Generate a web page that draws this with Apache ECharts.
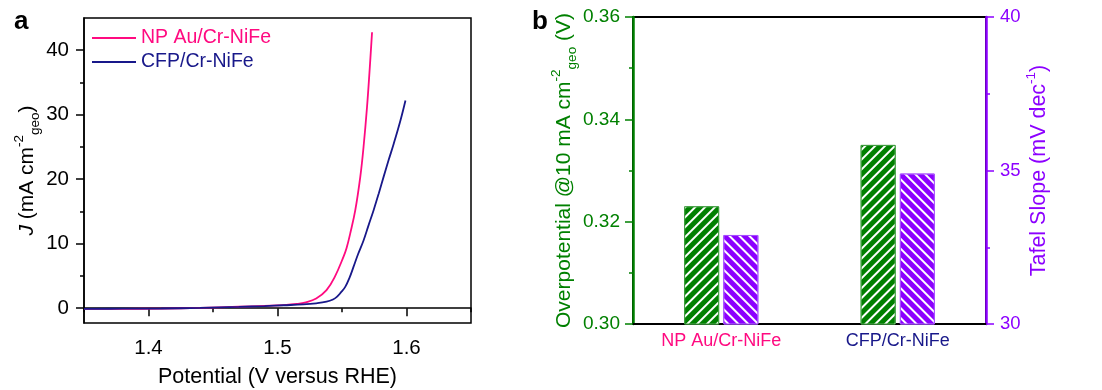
<!DOCTYPE html>
<html>
<head>
<meta charset="utf-8">
<style>
  html, body { margin: 0; padding: 0; background: #fff; }
  #chart { width: 1102px; height: 390px; }
</style>
<script src="https://cdn.jsdelivr.net/npm/echarts@6/dist/echarts.min.js"></script>
</head>
<body>
<div id="chart"></div>
<script>
// Panel a: polarization curves (potential in V vs RHE, current density in mA cm^-2)
const potentialAu = [1.35, 1.38, 1.41, 1.44, 1.47, 1.49, 1.505, 1.515, 1.522, 1.530, 1.538, 1.5445, 1.5512, 1.5535, 1.5564, 1.5603, 1.5642, 1.5667, 1.5694, 1.5714, 1.5733];
const currentAu   = [-0.12, -0.1, -0.06, 0.05, 0.22, 0.36, 0.48, 0.65, 0.9, 1.5, 2.8, 4.9, 8.0, 9.3, 11.6, 15.2, 20.4, 25.0, 31.2, 36.9, 42.8];
const potentialCfp = [1.35, 1.38, 1.41, 1.44, 1.47, 1.49, 1.505, 1.52, 1.53, 1.538, 1.543, 1.546, 1.549, 1.5525, 1.556, 1.5589, 1.5625, 1.5667, 1.5705, 1.5745, 1.5785, 1.5823, 1.5862, 1.5901, 1.5953, 1.5992];
const currentCfp   = [-0.1, -0.08, -0.05, 0.05, 0.2, 0.33, 0.45, 0.58, 0.75, 1.0, 1.35, 1.75, 2.4, 3.3, 4.8, 6.4, 8.4, 10.5, 12.8, 15.2, 17.8, 20.4, 23.0, 25.5, 29.1, 32.2];

// Panel b: overpotential at 10 mA cm^-2 (V) and Tafel slope (mV dec^-1)
const catalysts = ['NP Au/Cr-NiFe', 'CFP/Cr-NiFe'];
const overpotential = [0.323, 0.335];
const tafelSlope = [32.9, 34.9];

// Tick positions
const potMajor = [1.4, 1.5, 1.6];
const potMinor = [1.35, 1.45, 1.55, 1.65];
const jMajor = [0, 10, 20, 30, 40];
const jMinor = [5, 15, 25, 35];
const etaMajor = [0.30, 0.32, 0.34, 0.36];
const etaMinor = [0.31, 0.33, 0.35];
const tafelMajor = [30, 35, 40];
const tafelMinor = [32.5, 37.5];

const PINK = '#ff0a80';
const NAVY = '#18188a';
const GREEN = '#008000';
const PURPLE = '#8c00ff';
const FONT = 'Liberation Sans, Arial, sans-serif';

const zip = (xs, ys) => xs.map((x, i) => [x, ys[i]]);

const chart = echarts.init(document.getElementById('chart'), null, { renderer: 'canvas' });

// Extra axis sharing a grid that only draws the short minor ticks
function minorAxis(base, values, len, color) {
  return Object.assign({}, base, {
    axisLine: { show: false },
    axisLabel: { show: false },
    splitLine: { show: false },
    axisTick: { show: true, inside: false, length: len, customValues: values, lineStyle: { color: color, width: 1.5 } },
    name: ''
  });
}

const xA = { type: 'value', gridIndex: 0, min: 1.35, max: 1.65, position: 'bottom' };
const yA = { type: 'value', gridIndex: 0, min: -2.3, max: 45, position: 'left' };
const yEta = { type: 'value', gridIndex: 1, min: 0.30, max: 0.36, position: 'left' };
const yTafel = { type: 'value', gridIndex: 1, min: 30, max: 40, position: 'right' };

const option = {
  animation: false,
  textStyle: { fontFamily: FONT },
  title: [
    { text: 'a', left: 14, top: 9, padding: 0, textStyle: { fontSize: 26, fontWeight: 'bold', color: '#000', fontFamily: FONT } },
    { text: 'b', left: 532, top: 9, padding: 0, textStyle: { fontSize: 26, fontWeight: 'bold', color: '#000', fontFamily: FONT } }
  ],
  legend: {
    orient: 'vertical',
    left: 92,
    top: 28,
    icon: 'rect',
    itemWidth: 44,
    itemHeight: 2,
    itemGap: 4,
    padding: 0,
    textStyle: { fontSize: 19.5, lineHeight: 20, fontFamily: FONT },
    data: [
      { name: 'NP Au/Cr-NiFe', textStyle: { color: PINK } },
      { name: 'CFP/Cr-NiFe', textStyle: { color: NAVY } }
    ]
  },
  grid: [
    { left: 84, top: 18, width: 387, height: 305, outerBoundsMode: 'none', containLabel: false, show: true, borderColor: '#000', borderWidth: 1.5, backgroundColor: 'transparent' },
    { left: 633, top: 17, width: 353, height: 307, outerBoundsMode: 'none', containLabel: false, show: true, borderColor: '#000', borderWidth: 2, backgroundColor: 'transparent' }
  ],
  xAxis: [
    Object.assign({}, xA, {
      name: 'Potential (V versus RHE)',
      nameLocation: 'middle',
      nameGap: 43,
      nameTextStyle: { fontSize: 21.5, color: '#000', fontFamily: FONT },
      axisLine: { show: true, lineStyle: { color: '#000', width: 1.5 } },
      axisTick: { show: true, inside: false, length: 8, customValues: potMajor, lineStyle: { color: '#000', width: 1.5 } },
      axisLabel: { show: true, customValues: potMajor, margin: 15, fontSize: 20.5, color: '#000', formatter: v => v.toFixed(1) },
      splitLine: { show: false }
    }),
    minorAxis(xA, potMinor, 4, '#000'),
    {
      type: 'category',
      gridIndex: 1,
      position: 'bottom',
      data: [
        { value: catalysts[0], textStyle: { color: PINK } },
        { value: catalysts[1], textStyle: { color: NAVY } }
      ],
      axisLine: { show: true, lineStyle: { color: '#000', width: 2 } },
      axisTick: { show: false },
      axisLabel: { margin: 8, fontSize: 18, fontFamily: FONT },
      splitLine: { show: false }
    }
  ],
  yAxis: [
    Object.assign({}, yA, {
      name: '{i|J} (mA cm{sup|-2}{sub|geo})',
      nameLocation: 'middle',
      nameRotate: 90,
      nameGap: 41,
      nameTextStyle: {
        fontSize: 21, color: '#000', fontFamily: FONT, lineHeight: 30,
        rich: {
          i: { fontStyle: 'italic', fontSize: 21, fontFamily: FONT, lineHeight: 30 },
          sup: { fontSize: 13.5, fontFamily: FONT, verticalAlign: 'top', lineHeight: 14 },
          sub: { fontSize: 13.5, fontFamily: FONT, verticalAlign: 'bottom', lineHeight: 14 }
        }
      },
      axisLine: { show: true, lineStyle: { color: '#000', width: 1.5 } },
      axisTick: { show: true, inside: false, length: 8, customValues: jMajor, lineStyle: { color: '#000', width: 1.5 } },
      axisLabel: { show: true, customValues: jMajor, margin: 15, fontSize: 20.5, color: '#000' },
      splitLine: { show: false }
    }),
    minorAxis(yA, jMinor, 4, '#000'),
    Object.assign({}, yEta, {
      name: 'Overpotential @10 mA cm{sup|-2}{sub|geo} (V)',
      nameLocation: 'middle',
      nameRotate: 90,
      nameGap: 54,
      nameTextStyle: {
        fontSize: 21, color: GREEN, fontFamily: FONT, lineHeight: 30,
        rich: {
          sup: { fontSize: 13.5, color: GREEN, fontFamily: FONT, verticalAlign: 'top', lineHeight: 14 },
          sub: { fontSize: 13.5, color: GREEN, fontFamily: FONT, verticalAlign: 'bottom', lineHeight: 14 }
        }
      },
      axisLine: { show: true, lineStyle: { color: GREEN, width: 2.5 } },
      axisTick: { show: true, inside: false, length: 8, customValues: etaMajor, lineStyle: { color: GREEN, width: 1.5 } },
      axisLabel: { show: true, customValues: etaMajor, margin: 13, fontSize: 19, color: GREEN, formatter: v => v.toFixed(2) },
      splitLine: { show: false }
    }),
    minorAxis(yEta, etaMinor, 4, GREEN),
    Object.assign({}, yTafel, {
      name: 'Tafel Slope (mV dec{sup|-1})',
      nameLocation: 'middle',
      nameRotate: 90,
      nameGap: 36,
      nameTextStyle: {
        fontSize: 21.5, color: PURPLE, fontFamily: FONT, lineHeight: 30,
        rich: {
          sup: { fontSize: 13.5, color: PURPLE, fontFamily: FONT, verticalAlign: 'top', lineHeight: 14 }
        }
      },
      axisLine: { show: true, lineStyle: { color: PURPLE, width: 2.5 } },
      axisTick: { show: true, inside: false, length: 8, customValues: tafelMajor, lineStyle: { color: PURPLE, width: 1.5 } },
      axisLabel: { show: true, customValues: tafelMajor, margin: 14, fontSize: 18.5, color: PURPLE },
      splitLine: { show: false }
    }),
    minorAxis(yTafel, tafelMinor, 4, PURPLE)
  ],
  series: [
    {
      name: 'NP Au/Cr-NiFe',
      type: 'line',
      xAxisIndex: 0, yAxisIndex: 0,
      data: zip(potentialAu, currentAu),
      showSymbol: false, symbol: 'none',
      smooth: 0.4,
      lineStyle: { color: PINK, width: 1.8 },
      itemStyle: { color: PINK },
      z: 2
    },
    {
      name: 'CFP/Cr-NiFe',
      type: 'line',
      xAxisIndex: 0, yAxisIndex: 0,
      data: zip(potentialCfp, currentCfp),
      showSymbol: false, symbol: 'none',
      smooth: 0.4,
      lineStyle: { color: NAVY, width: 1.8 },
      itemStyle: { color: NAVY },
      z: 3
    },
    {
      name: 'Overpotential',
      type: 'bar',
      xAxisIndex: 2, yAxisIndex: 2,
      data: overpotential,
      barWidth: 35,
      barGap: '12%',
      itemStyle: {
        color: GREEN,
        borderColor: '#3c9c3c',
        borderWidth: 1,
        decal: { symbol: 'rect', symbolSize: 1, dashArrayX: [1, 0], dashArrayY: [2, 4.5], rotation: -Math.PI / 4, color: '#ffffff' }
      }
    },
    {
      name: 'Tafel slope',
      type: 'bar',
      xAxisIndex: 2, yAxisIndex: 4,
      data: tafelSlope,
      barWidth: 35,
      barGap: '12%',
      itemStyle: {
        color: PURPLE,
        borderColor: '#a64dff',
        borderWidth: 1,
        decal: { symbol: 'rect', symbolSize: 1, dashArrayX: [1, 0], dashArrayY: [2, 4.5], rotation: Math.PI / 4, color: '#ffffff' }
      }
    }
  ]
};

chart.setOption(option);
</script>
</body>
</html>
